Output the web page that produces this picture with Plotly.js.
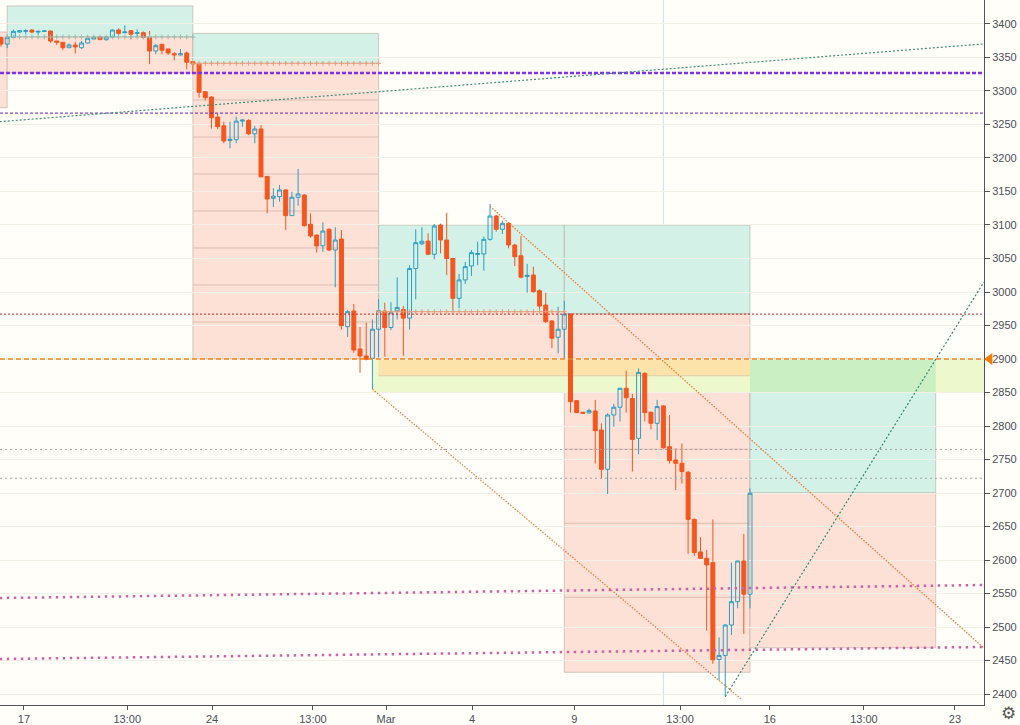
<!DOCTYPE html>
<html><head><meta charset="utf-8">
<script src="https://cdn.plot.ly/plotly-3.0.1.min.js"></script>
<style>html,body{margin:0;padding:0;overflow:hidden;background:#fffef8}</style>
</head><body><div id="chart" style="width:1020px;height:725px"></div>
<script>
// ---- candle data (4h bars, index-based time axis) ----
const openP = [3380,3370,3380,3388,3389,3391,3388,3389,3389.5,3374.6,
3372.7,3364.6,3368.7,3364.6,3371.6,3377.6,3380.6,3376.6,3380.6,3391,
3387,3390,3386,3387,3379.6,3359.7,3369.7,3362.7,3355.7,3353.8,
3356.7,3343.8,3340,3299,3291,3261,3248,3226,3227.4,3255,
3256,3236,3243.3,3172.5,3139.9,3142.3,3152.3,3114,3141.4,3144.8,
3101,3085,3069,3093.6,3062.7,3079,2948.3,2971.6,2915,2904.5,
2901,2944.4,2971.6,2947,2972,2974,2961,3035,3072,3076,
3056.3,3100,3077.6,3050,2990.6,3018,3038.8,3056,3056.7,3078.6,
3113.4,3093.6,3102.5,3070,3054,3023,3025.4,3002,2980.6,2956.7,
2932.4,2944.4,2967,2837.8,2820.5,2819.5,2822.4,2794,2735.4,2816.4,
2828,2856.3,2841,2781.6,2878.6,2820.5,2804,2830,2769,2749.3,
2744.3,2731,2660.6,2612,2602.5,2596,2451.6,2457.6,2503,2537.8,
2598.5,2549];
const highP = [3381,3383,3391.5,3391,3392,3392,3390,3390,3390,3375,
3373,3371,3373.6,3374.6,3381,3382.5,3381.5,3381.5,3392,3393.6,
3398,3391,3392,3389,3389.6,3370,3370,3363,3358,3362.7,
3359,3344.5,3341,3300,3292,3266.7,3254,3254,3261.7,3258,
3258,3248,3249,3173,3154.8,3159.7,3153.5,3149.7,3183.6,3146,
3117.5,3086,3104,3095,3096.6,3092.5,2973,2982,2948,2954,
2959,2989.6,2984,2984.6,3022,2979,3040,3093.6,3096.6,3087.6,
3101.5,3102,3118.4,3051,3027,3045,3062.7,3075,3082.6,3131.4,
3115,3106.6,3103,3072,3083.6,3042,3037.8,3004,2999,2958,
2978,2986.6,2968,2838.5,2821,2826,2839,2804,2819,2833,
2857,2882.6,2848,2886,2880,2821.5,2839,2831,2816.4,2766.7,
2774,2733,2662,2634,2615,2660.6,2484.7,2504,2596,2599,
2639,2707];
const lowP = [3366,3364,3379,3387,3385,3386,3384,3389,3372,3368.7,
3361,3364,3356,3363,3371,3377,3376,3375,3380,3383.6,
3386,3377,3381,3377.6,3340,3355,3355,3353.8,3345.8,3353,
3332.4,3326.4,3290,3286,3244,3243,3222,3214.5,3222,3246.7,
3234,3222,3171,3117.5,3127,3134.8,3092.5,3114,3128.8,3097.5,
3081,3059,3060,3061,3007,2944,2933,2909.4,2879.6,2898,
2855,2903,2903.5,2943,2959,2905,2944,2989,3070,3055,
3048.8,3057.8,3025.4,2972,2975.7,3012,3024,3040,3031.8,3076.6,
3090,3086.6,3065.2,3038.8,3020.5,2999,2999,2970.6,2954,2916,
2908.5,2901,2820,2819,2818.5,2819,2744,2722,2698.5,2799,
2806.7,2820,2732,2757.8,2806.7,2795,2779,2766,2744,2704.5,
2714,2609,2606,2602,2494.5,2445,2420,2396,2488,2528,
2489.6,2528];
const closeP = [3370,3380,3389,3390,3390,3388,3389,3389.6,3374.6,3372.7,
3364.6,3368.7,3365.7,3371.6,3378.6,3379.6,3376.6,3380.6,3391,3386,
3388,3384.6,3387,3380,3359.7,3367.6,3360.7,3356.7,3353.8,3355.7,
3342.8,3340.3,3298,3290,3260,3246.7,3225.4,3228,3255,3256.5,
3236,3243.3,3172,3138.8,3143,3152.3,3114,3141.4,3146.3,3099,
3083.6,3068.7,3091,3062.7,3077.6,2949.7,2970.6,2913.4,2904.5,2899.6,
2944.4,2972,2947,2969.1,2977,2961,3035,3073.6,3075.7,3056.3,
3098.5,3077.6,3050,2990.6,3018,3037.8,3058.7,3057.5,3078.6,3113.4,
3093.6,3102.5,3070.2,3052.7,3022,3025,3000.5,2979,2955.7,2931,
2944.4,2967.2,2836.3,2820,2819,2823,2793,2735.4,2816.4,2828,
2856.3,2842.3,2780,2880,2820,2804,2829,2767.6,2748.3,2744.3,
2732,2660.6,2611,2602.5,2592.6,2451,2457.6,2503,2537.8,2598.5,
2549,2699.6];

// ---- axis ticks ----
const tickBars = [3.7, 20.4, 34.1, 50.4, 62.2, 76.1, 92.6, 109.7, 124.2, 139.4, 154.1];
const tickLabels = ["17", "13:00", "24", "13:00", "Mar", "4", "9", "13:00", "16", "13:00", "23"];
const priceTicks = [3400,3350,3300,3250,3200,3150,3100,3050,3000,2950,2900,2850,2800,2750,2700,2650,2600,2550,2500,2450,2400];
const priceLabels = priceTicks.map(v => String(v));

// ---- long-position boxes (bar index / price) ----
const posStart  = [1, 31, 61, 91, 121];
const posEnd    = [31, 61, 91, 121, 151];
const posTarget = [3427, 3386, 3100, 3100, 2900];
const posEntry  = [3380.6, 3341.3, 2970.6, 2967.2, 2700];
const posStop   = [3327, 2900, 2875, 2432.4, 2469];
const stripBox  = [-30, 1, 3275, 3388];
const box2Levels = [3286.6, 3231.3, 3176.1, 3120.9, 3065.7, 3010.5, 2955.2];
const box5Levels = [2875, 2765.3, 2654.8, 2544.4];

// ---- support zone ----
const zoneTop = 2900, zoneMid = 2875, zoneBottom = 2850, zoneStartBar = 60;

// ---- horizontal levels ----
const levelPurpleThick = 3327, levelPurpleThin = 3267, levelRed = 2967, levelOrange = 2900, levelGrayA = 2765, levelGrayB = 2722;
const vLineBar = 107;

// ---- trend lines [bar0, price0, bar1, price1] ----
const trendGreenLong   = [-0.2, 3254.2, 158.8, 3370.3];
const trendPinkUpper   = [-0.2, 2543.3, 158.8, 2562.7];
const trendPinkLower   = [-0.2, 2452.3, 158.8, 2470.2];
const trendChannelLow  = [60, 2855, 119.5, 2393];
const trendChannelHigh = [79, 3128, 158.8, 2468.5];
const trendGreenSteep  = [117, 2396, 158.8, 3015];

const bars = openP.map((_, i) => i);

const TEAL = '#d3f1e6', PINK = '#fde1d6', BORDER = 'rgba(165,150,140,0.45)';
const shapes = [];
function rect(x0, x1, y0, y1, fill, border) {
  shapes.push({type:'rect', xref:'x', yref:'y', x0, x1, y0, y1, fillcolor:fill, layer:'below',
    line:{width: border ? 1 : 0, color: border || 'rgba(0,0,0,0)'}});
}
function seg(x0, y0, x1, y1, color, width, dash, layer) {
  shapes.push({type:'line', xref:'x', yref:'y', x0, y0, x1, y1, layer: layer || 'above',
    line:{color, width, dash}});
}
function hline(y, color, width, dash) {
  shapes.push({type:'line', xref:'paper', yref:'y', x0:0, x1:1, y0:y, y1:y, layer:'above',
    line:{color, width, dash}});
}

rect(stripBox[0], stripBox[1], stripBox[2], stripBox[3], PINK, BORDER);
for (let k = 0; k < posStart.length; k++) {
  rect(posStart[k], posEnd[k], posEntry[k], posTarget[k], TEAL, BORDER);
  rect(posStart[k], posEnd[k], posStop[k], posEntry[k], PINK, BORDER);
}
box2Levels.forEach(v => seg(posStart[1], v, posEnd[1], v, '#dcbdb1', 1, 'solid', 'below'));
box5Levels.forEach(v => seg(posStart[3], v, posEnd[3], v, '#dcbdb1', 1, 'solid', 'below'));

// zone
rect(zoneStartBar, 220, zoneBottom, zoneTop, '#eef8cd');
rect(posStart[2], posEnd[3], zoneMid, zoneTop, '#fbe3a9');
rect(posStart[4], posEnd[4], zoneBottom, zoneTop, '#c9efc2');
seg(posStart[2], zoneMid, posEnd[3], zoneMid, '#dccdb0', 1, 'solid', 'below');

// vertical marker
shapes.push({type:'line', xref:'x', yref:'paper', x0:vLineBar, x1:vLineBar, y0:0, y1:1, layer:'below',
  line:{color:'#d3dee9', width:1}});

// horizontal levels
hline(levelPurpleThick, '#8033ea', 2.5, '4px,2px');
hline(levelPurpleThin, '#6a1fb5', 1, '3px,2px');
hline(levelRed, '#c62828', 1, '2px,2px');
hline(levelOrange, '#f0861e', 1.5, '5px,3px');
hline(levelGrayA, '#a3a3a3', 1, '2px,3px');
hline(levelGrayB, '#a3a3a3', 1, '2px,3px');

// trend lines
seg(...trendGreenLong, '#3f8f78', 1.2, '2px,2px');
seg(...trendPinkUpper, '#c566a8', 2.5, '2.5px,4.5px');
seg(...trendPinkLower, '#c566a8', 2.5, '2.5px,4.5px');
seg(...trendChannelLow, '#f07a32', 1.2, '1.5px,1.5px');
seg(...trendChannelHigh, '#f07a32', 1.2, '1.5px,1.5px');
seg(...trendGreenSteep, '#2e8a72', 1.2, '2px,2px');

// price-axis marker for the 2900 level
shapes.push({type:'path', xref:'paper', yref:'y', fillcolor:'#f57c00', line:{width:0},
  path:`M 1,${levelOrange} L 1.0085,${levelOrange + 9} L 1.0085,${levelOrange - 9} Z`});

// entry lines with small plus markers
function entryTrace(k, color) {
  const xs = [], ys = [];
  for (let b = posStart[k]; b <= posEnd[k]; b++) { xs.push(b); ys.push(posEntry[k]); }
  return {type:'scatter', mode:'markers', x:xs, y:ys, hoverinfo:'skip',
    marker:{symbol:'cross-thin', size:3.5, line:{color, width:1}}};
}

const traces = [
  entryTrace(0, '#9dbcae'),
  entryTrace(1, '#f09a72'),
  entryTrace(2, '#f09a72'),
  {type:'candlestick', x:bars, open:openP, high:highP, low:lowP, close:closeP,
   increasing:{line:{color:'#2a9ec4', width:1}, fillcolor:'rgba(255,255,255,0)'},
   decreasing:{line:{color:'#f5561e', width:1}, fillcolor:'#f5561e'},
   whiskerwidth:0, hoverinfo:'skip'}
];

const tickFont = {family:'Liberation Sans, Arial, sans-serif', size:11, color:'#4a4f5a'};
const layout = {
  width:1020, height:725, margin:{l:0, r:36, t:0, b:20, pad:0},
  paper_bgcolor:'#fffef8', plot_bgcolor:'#fffef8',
  showlegend:false, hovermode:false, dragmode:false,
  boxgap:0.2, boxgroupgap:0.2,
  xaxis:{range:[-0.16, 158.8], tickmode:'array', tickvals:tickBars, ticktext:tickLabels,
    showgrid:false, zeroline:false, showline:true, linecolor:'#50535e', linewidth:1,
    ticks:'outside', ticklen:4, tickcolor:'#50535e', tickfont:tickFont,
    rangeslider:{visible:false}, fixedrange:true},
  yaxis:{side:'right', range:[2383.6, 3435.8], tickmode:'array', tickvals:priceTicks,
    ticktext:priceLabels,
    showgrid:true, gridcolor:'#f2f0e7', zeroline:false, showline:true, linecolor:'#50535e', linewidth:1,
    ticks:'outside', ticklen:5, tickcolor:'#50535e', tickfont:tickFont, fixedrange:true},
  shapes,
  annotations:[{xref:'paper', yref:'paper', x:1.0244, y:-0.012, text:'⚙', showarrow:false,
    font:{family:'DejaVu Sans', size:17, color:'#555'}, xanchor:'center', yanchor:'middle'}]
};

Plotly.newPlot('chart', traces, layout, {staticPlot:true, displayModeBar:false});
</script></body></html>
